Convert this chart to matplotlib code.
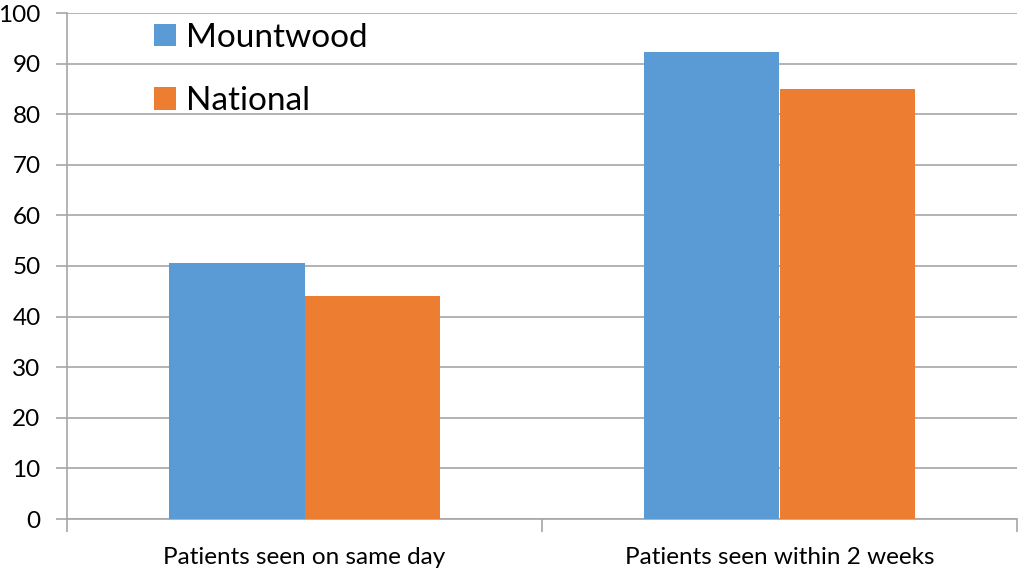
import matplotlib
matplotlib.use("Agg")
import matplotlib.pyplot as plt
import numpy as np

categories = ["Patients seen on same day", "Patients seen within 2 weeks"]
series_names = ["Mountwood", "National"]
mountwood = [50.5, 92.3]
national = [44.0, 85.0]
colors = ["#5B9BD5", "#ED7D31"]
yticks = [0, 10, 20, 30, 40, 50, 60, 70, 80, 90, 100]

plt.rcParams["font.family"] = ["Lato", "DejaVu Sans"]

fig = plt.figure(figsize=(10.2, 5.77), dpi=100)
ax = fig.add_axes([67 / 1020, 58 / 577, 950 / 1020, 506 / 577])

x = np.arange(len(categories))
w = 0.286
ax.bar(x - w / 2, mountwood, w, color=colors[0], label=series_names[0], zorder=3)
ax.bar(x + w / 2, national, w, color=colors[1], label=series_names[1], zorder=3)

ax.set_xlim(-0.5, len(categories) - 0.5)
ax.set_ylim(0, 100)
ax.set_yticks(yticks)
ax.set_yticklabels([str(v) for v in yticks], fontsize=17.5)
ax.yaxis.grid(True, color="#A6A6A6", linewidth=1.2, zorder=0)
ax.set_axisbelow(True)

# category ticks sit on the boundaries between groups
ax.set_xticks(np.arange(-0.5, len(categories)), minor=False)
ax.set_xticklabels([])
ax.set_xticks(x, minor=True)
ax.set_xticklabels(categories, minor=True, fontsize=17.5)
ax.tick_params(axis="x", which="major", length=9, color="#A6A6A6", width=1.2)
ax.tick_params(axis="x", which="minor", length=0, pad=20)
ax.tick_params(axis="y", length=8, color="#A6A6A6", width=1.2, pad=11)

for side in ["top", "right"]:
    ax.spines[side].set_visible(False)
for side in ["left", "bottom"]:
    ax.spines[side].set_color("#A6A6A6")
    ax.spines[side].set_linewidth(1.2)

ax.legend(loc="upper left", bbox_to_anchor=(0.078, 1.007), borderaxespad=0,
          frameon=False, fontsize=24, handlelength=0.65, handleheight=0.65,
          handletextpad=0.3, labelspacing=1.0)

fig.savefig("out.png", dpi=100)
